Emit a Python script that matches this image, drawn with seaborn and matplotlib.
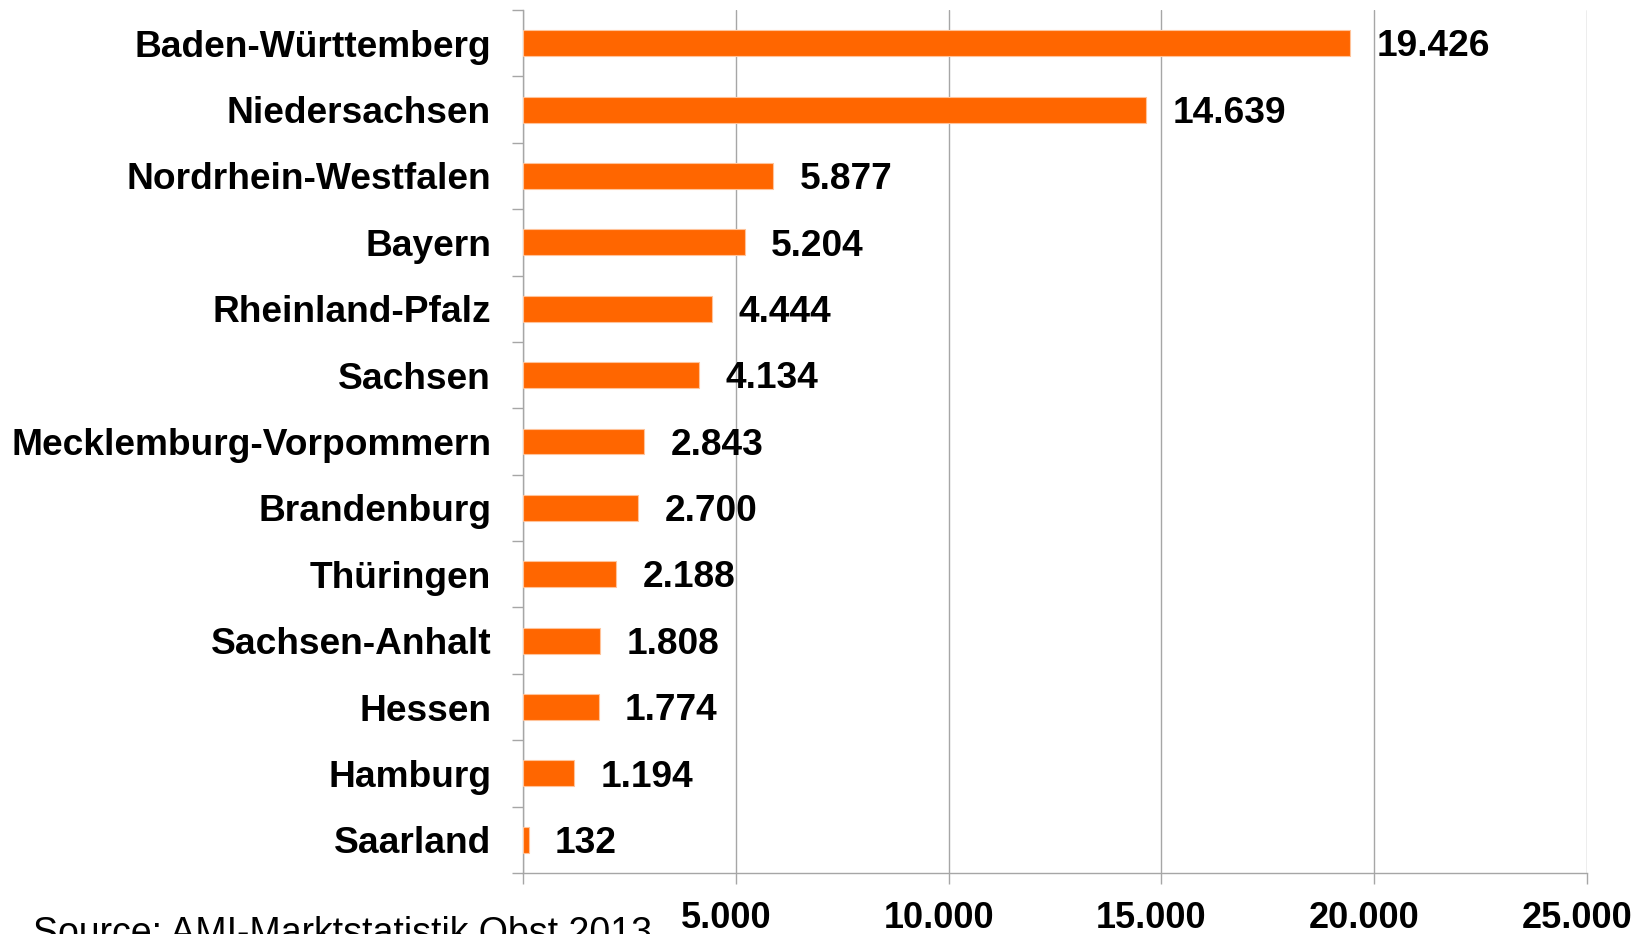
import numpy as np
import matplotlib
matplotlib.use("Agg")
import matplotlib.pyplot as plt
import matplotlib.ticker as mticker
import matplotlib.transforms as mtransforms
import seaborn as sns

# Data (ha per Bundesland)
states = ["Baden-Württemberg", "Niedersachsen", "Nordrhein-Westfalen", "Bayern",
          "Rheinland-Pfalz", "Sachsen", "Mecklemburg-Vorpommern", "Brandenburg",
          "Thüringen", "Sachsen-Anhalt", "Hessen", "Hamburg", "Saarland"]
values = [19426, 14639, 5877, 5204, 4444, 4134, 2843, 2700, 2188, 1808, 1774, 1194, 132]
xticks = [0, 5000, 10000, 15000, 20000, 25000]
source = "Source: AMI-Marktstatistik Obst 2013"

sns.set_theme(style="white")
plt.rcParams["font.family"] = ["Liberation Sans", "DejaVu Sans"]
plt.rcParams.update({"text.color": "black", "xtick.labelcolor": "black",
                     "ytick.labelcolor": "black"})

GRID = "#a6a6a6"
ORANGE = "#ff6600"

fig = plt.figure(figsize=(16.38, 9.34), dpi=100)
ax = fig.add_axes([0.3193, 0.0653, 0.9689 - 0.3193, 0.9893 - 0.0653])

sns.barplot(x=values, y=states, orient="h", color=ORANGE, width=0.39,
            edgecolor="#ffc39a", linewidth=0.8, saturation=1, ax=ax, zorder=3)

ax.set_xlim(0, 25000)
ax.set_ylim(len(states) - 0.5, -0.5)
ax.set_xlabel("")
ax.set_ylabel("")

# x axis: gridlines + dotted thousands
ax.set_xticks(xticks)
ax.xaxis.set_major_formatter(mticker.FuncFormatter(
    lambda x, _: "" if x == 0 else f"{int(x):,}".replace(",", ".")))
ax.grid(axis="x", color=GRID, lw=1, zorder=0)
ax.tick_params(axis="x", bottom=True, length=8, width=1, color=GRID,
               pad=12.5, labelsize=26)
shift = mtransforms.ScaledTranslation(-10 / 100, 0, fig.dpi_scale_trans)
for lbl in ax.get_xticklabels():
    lbl.set_fontweight("bold")
    lbl.set_transform(lbl.get_transform() + shift)

# y axis: ticks between categories
ax.set_yticks(np.arange(-0.5, len(states), 1), minor=True)
ax.tick_params(axis="y", which="major", length=0, pad=23, labelsize=26.7)
ax.tick_params(axis="y", which="minor", left=True, length=8, width=1, color=GRID)
for lbl in ax.get_yticklabels():
    lbl.set_fontweight("bold")

for side in ["top", "right"]:
    ax.spines[side].set_visible(False)
for side in ["left", "bottom"]:
    ax.spines[side].set_color(GRID)
    ax.spines[side].set_linewidth(1)

# value labels
for i, v in enumerate(values):
    ax.annotate(f"{v:,}".replace(",", "."), xy=(v, i), xytext=(19, -9.5),
                textcoords="offset points", ha="left", va="baseline",
                fontsize=26.7, fontweight="bold", color="black", zorder=4)

fig.text(33 / 1638, -0.0107, source, ha="left", va="baseline",
         fontsize=27, color="black")

fig.savefig("out.png", dpi=100)
